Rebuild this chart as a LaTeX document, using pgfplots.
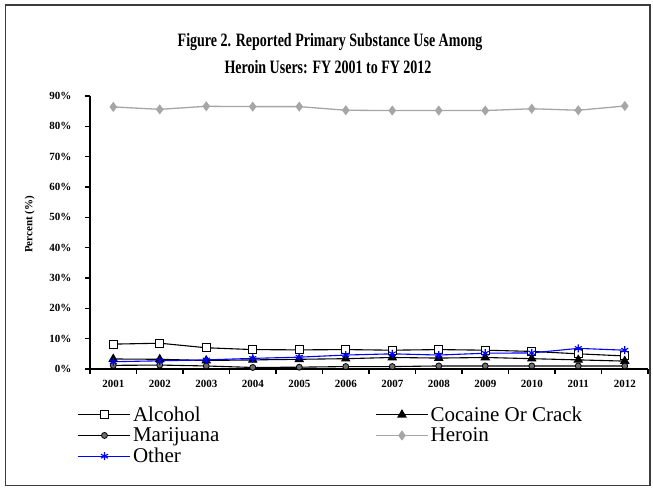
\documentclass[border=0pt]{standalone}
\usepackage{pgfplots}
\pgfplotsset{compat=1.18}
\usepackage{fontspec}
\setmainfont{Liberation Serif}
\usetikzlibrary{plotmarks}
\definecolor{herogray}{RGB}{166,166,166}
\definecolor{margray}{RGB}{110,110,110}
\definecolor{framegray}{RGB}{60,60,60}
\begin{document}
\begin{tikzpicture}[x=1pt,y=1pt]
\useasboundingbox (0,0) rectangle (653,489);
\fill[white] (0,0) rectangle (653,489);
\draw[framegray,line width=1.6pt] (5.5,3.5) rectangle (650,484);
\node[font=\fontsize{14}{14}\selectfont\bfseries] at (330,447) {\scalebox{1.0}[1.35]{Figure 2. Reported Primary Substance Use Among}};
\node[font=\fontsize{14}{14}\selectfont\bfseries] at (328,422) {\scalebox{1.0}[1.35]{Heroin Users: FY 2001 to FY 2012}};
\begin{axis}[
  at={(90pt,120pt)}, anchor=south west,
  scale only axis, width=558pt, height=273pt,
  xmin=0.5, xmax=12.5, ymin=0, ymax=90,
  axis lines*=left,
  axis line style={line width=1.3pt,black},
  tick align=outside,
  xtick={1,...,12},
  xticklabels={2001,2002,2003,2004,2005,2006,2007,2008,2009,2010,2011,2012},
  major x tick style={draw=none},
  minor xtick={0.5,1.5,...,12.5},
  minor x tick style={line width=1.2pt,black},
  minor tick length=5pt,
  ytick={0,10,...,90},
  yticklabels={0\%,10\%,20\%,30\%,40\%,50\%,60\%,70\%,80\%,90\%},
  major y tick style={line width=1.2pt,black},
  major tick length=5pt,
  tick label style={font=\fontsize{11}{11}\selectfont\bfseries},
  xticklabel style={yshift=-3pt},
  yticklabel style={xshift=-10pt},
  ylabel={Percent (\%)},
  ylabel style={font=\fontsize{11}{11}\selectfont\bfseries, at={(axis description cs:-0.108,0.53)}, anchor=center},
  clip=false,
  legend columns=2,
  legend style={at={(axis description cs:-0.022,-0.13)}, anchor=north west,
    draw=none, fill=none, inner sep=0pt, row sep=1pt,
    font=\rmfamily\mdseries\fontsize{21}{21}\selectfont,
    nodes={inner sep=2pt},
    /tikz/every even column/.append style={column sep=154pt}},
  legend cell align=left,
  legend image code/.code={\draw[mark repeat=2,mark phase=2,#1] plot coordinates {(0pt,0pt) (26pt,0pt) (52pt,0pt)};},
]
\addplot[black, line width=1.1pt, mark=square*, mark options={fill=white,draw=black,line width=1pt,solid}, mark size=4pt]
 coordinates {(1,8.2)(2,8.5)(3,7.0)(4,6.4)(5,6.3)(6,6.4)(7,6.2)(8,6.4)(9,6.2)(10,5.8)(11,5.0)(12,4.3)};
\addlegendentry{Alcohol}
\addplot[black, line width=1.1pt, mark=triangle*, mark options={fill=black,solid}, mark size=4.5pt]
 coordinates {(1,3.3)(2,3.2)(3,2.8)(4,3.0)(5,3.2)(6,3.4)(7,3.8)(8,3.6)(9,3.8)(10,3.4)(11,3.0)(12,2.6)};
\addlegendentry{Cocaine Or Crack}
\addplot[black, line width=1.1pt, mark=*, mark options={fill=margray,draw=black,line width=0.8pt,solid}, mark size=3pt]
 coordinates {(1,1.2)(2,1.3)(3,1.0)(4,0.5)(5,0.6)(6,0.8)(7,0.8)(8,1.0)(9,1.0)(10,1.0)(11,1.0)(12,1.0)};
\addlegendentry{Marijuana}
\addplot[herogray, line width=1.3pt, mark=diamond*, mark options={fill=herogray,draw=herogray,solid}, mark size=4pt]
 coordinates {(1,86.4)(2,85.6)(3,86.6)(4,86.5)(5,86.5)(6,85.3)(7,85.2)(8,85.2)(9,85.2)(10,85.8)(11,85.3)(12,86.7)};
\addlegendentry{Heroin}
\addplot[blue, line width=1.1pt, mark=asterisk, mark options={draw=blue,line width=1.1pt,solid}, mark size=4pt]
 coordinates {(1,2.4)(2,2.7)(3,3.0)(4,3.5)(5,3.9)(6,4.6)(7,5.0)(8,4.6)(9,5.2)(10,5.3)(11,6.8)(12,6.2)};
\addlegendentry{Other}
\end{axis}
\end{tikzpicture}
\end{document}
